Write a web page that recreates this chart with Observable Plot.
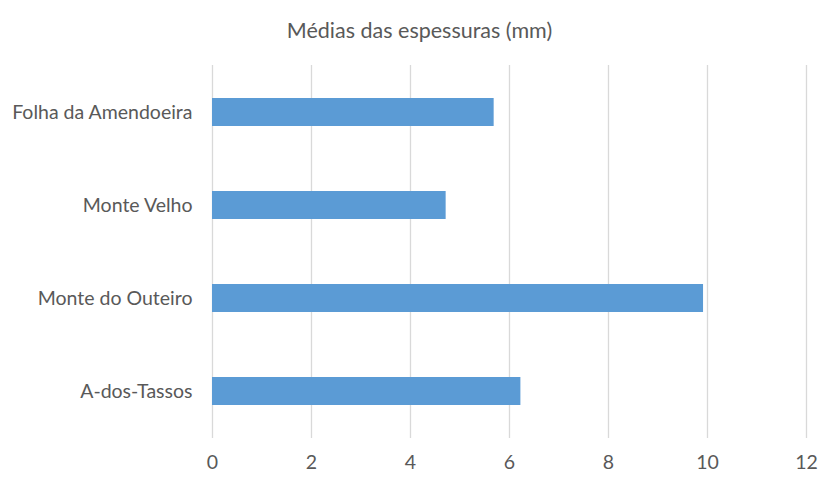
<!DOCTYPE html>
<html>
<head>
<meta charset="utf-8">
<script src="https://cdn.jsdelivr.net/npm/d3@7"></script>
<script src="https://cdn.jsdelivr.net/npm/@observablehq/plot@0.6"></script>
<style>
  body { margin: 0; background: #fff; }
  #chart svg { display: block; }
</style>
</head>
<body>
<div id="chart"></div>
<script>
const title = "Médias das espessuras (mm)";
const categories = ["Folha da Amendoeira", "Monte Velho", "Monte do Outeiro", "A-dos-Tassos"];
const values = [5.69, 4.72, 9.92, 6.23];
const xTicks = [0, 2, 4, 6, 8, 10, 12];

const data = categories.map((c, i) => ({category: c, value: values[i]}));

const fontFamily = "Lato, 'Open Sans', sans-serif";

const chart = Plot.plot({
  width: 819,
  height: 477,
  marginLeft: 212,
  marginRight: 13,
  marginTop: 65,
  marginBottom: 39,
  style: {fontFamily, fontSize: "19.5px", color: "#595959", background: "#fff"},
  x: {domain: [0, 12], ticks: xTicks, tickSize: 0, tickPadding: 17, label: null},
  y: {domain: categories, padding: 0.694, paddingOuter: 0.347, tickSize: 0, tickPadding: 20, label: null},
  marks: [
    Plot.gridX(xTicks, {stroke: "#d9d9d9", strokeOpacity: 1, strokeWidth: 1.3}),
    Plot.barX(data, {x: "value", y: "category", fill: "#5b9bd5"}),
    Plot.text([title], {frameAnchor: "top", dx: -90, dy: -43, fontSize: 21.5, fill: "#595959"})
  ]
});
document.getElementById("chart").appendChild(chart);
</script>
</body>
</html>
